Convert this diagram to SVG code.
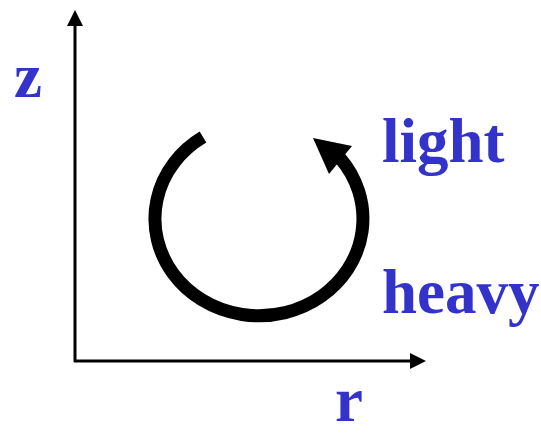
<svg xmlns="http://www.w3.org/2000/svg" width="541" height="435" viewBox="0 0 541 435">
  <style>
    .lbl { font-family: "Liberation Serif", "Times New Roman", serif; font-weight: bold; font-size: 63px; fill: #3333cc; }
    .axis { stroke: #000; stroke-width: 3; fill: none; }
  </style>
  <defs>
    <marker id="ah" viewBox="0 0 16 16" markerWidth="16" markerHeight="16" refX="8" refY="8" orient="auto" markerUnits="userSpaceOnUse">
      <path d="M0,0 L16,8 L0,16 z" fill="#000"/>
    </marker>
  </defs>
  <rect width="541" height="435" fill="#fff"/>
  <g id="connectors">
    <line class="axis" x1="75" y1="362" x2="75" y2="18" marker-end="url(#ah)"/>
    <line class="axis" x1="74" y1="361" x2="418" y2="361" marker-end="url(#ah)"/>
  </g>
  <g id="cycle">
    <path d="M203,137 A104,97 0 1 0 340,158" fill="none" stroke="#000" stroke-width="13"/>
    <polygon points="313,138 352,146 329,174" fill="#000"/>
  </g>
  <g id="label-z"><text class="lbl" x="14" y="97">z</text></g>
  <g id="label-r"><text class="lbl" x="335" y="421">r</text></g>
  <g id="label-light"><text class="lbl" x="382" y="162">light</text></g>
  <g id="label-heavy"><text class="lbl" x="382" y="313">heavy</text></g>
</svg>
